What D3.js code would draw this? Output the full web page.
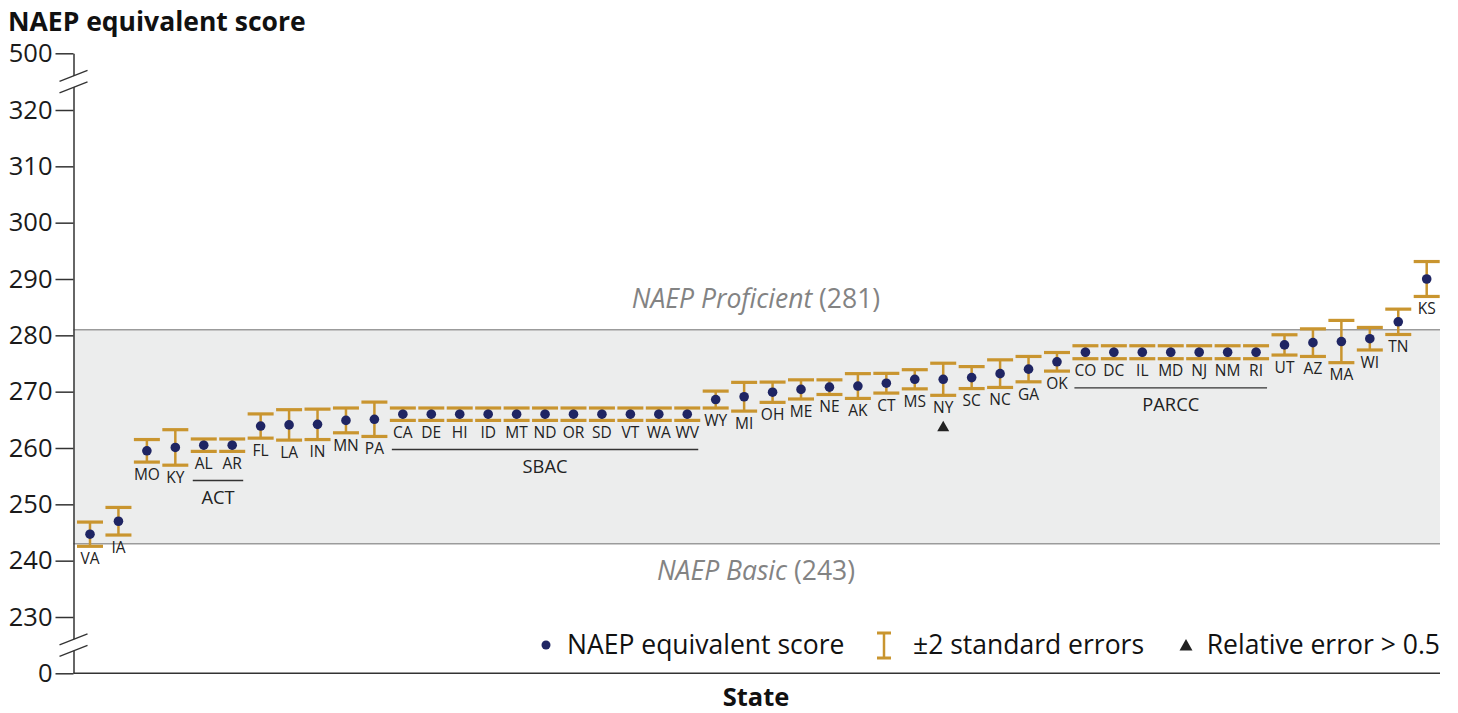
<!DOCTYPE html>
<html>
<head>
<meta charset="utf-8">
<script src="https://cdn.jsdelivr.net/npm/d3@7"></script>
<style>
  body { margin: 0; background: #fff; }
  svg { display: block; font-family: "Open Sans", "Noto Sans", sans-serif; }
</style>
</head>
<body>
<div id="chart"></div>
<script>
// ----- Data -----
const states = ["VA","IA","MO","KY","AL","AR","FL","LA","IN","MN","PA",
  "CA","DE","HI","ID","MT","ND","OR","SD","VT","WA","WV",
  "WY","MI","OH","ME","NE","AK","CT","MS","NY","SC","NC","GA","OK",
  "CO","DC","IL","MD","NJ","NM","RI","UT","AZ","MA","WI","TN","KS"];

const scores = [244.7, 247.0, 259.5, 260.1, 260.5, 260.5, 263.9, 264.1, 264.2, 264.9, 265.1,
  266.0, 266.0, 266.0, 266.0, 266.0, 266.0, 266.0, 266.0, 266.0, 266.0, 266.0,
  268.6, 269.1, 269.9, 270.4, 270.8, 271.0, 271.5, 272.2, 272.2, 272.5, 273.2, 274.0, 275.3,
  277.0, 277.0, 277.0, 277.0, 277.0, 277.0, 277.0, 278.3, 278.7, 278.9, 279.4, 282.4, 290.0];

// half width of the +/-2 standard error bar
const errors = [2.15, 2.45, 2.0, 3.15, 1.1, 1.1, 2.15, 2.7, 2.7, 2.2, 3.05,
  1.1, 1.1, 1.1, 1.1, 1.1, 1.1, 1.1, 1.1, 1.1, 1.1, 1.1,
  1.5, 2.55, 1.8, 1.7, 1.3, 2.2, 1.75, 1.7, 2.85, 1.95, 2.45, 2.25, 1.65,
  1.15, 1.15, 1.15, 1.15, 1.15, 1.15, 1.15, 1.8, 2.45, 3.75, 2.0, 2.25, 3.1];

const groupNames = ["ACT", "SBAC", "PARCC"];
const groupMembers = [
  ["AL","AR"],
  ["CA","DE","HI","ID","MT","ND","OR","SD","VT","WA","WV"],
  ["CO","DC","IL","MD","NJ","NM","RI"]
];
const flagged = ["NY"];

const tickValues = [0, 230, 240, 250, 260, 270, 280, 290, 300, 310, 320, 500];
const proficient = 281;
const basic = 243;

// ----- Config -----
const width = 1458, height = 713;
const axisX = 73.5, plotRight = 1440;
const barColor = "#c9952f", dotColor = "#1f2563";

const svg = d3.select("#chart").append("svg")
  .attr("width", width).attr("height", height);

const x = d3.scalePoint().domain(states).range([90, 1426.7]);
// broken axis: 0 and 500 sit one step outside 230..320
const y = d3.scaleLinear()
  .domain([0, 230, 320, 500])
  .range([673.3, 617, 110, 53.3]);

const data = states.map((s, i) => ({ state: s, score: scores[i], err: errors[i] }));
const byState = new Map(data.map(d => [d.state, d]));

// ----- Reference band -----
svg.append("rect")
  .attr("x", axisX).attr("width", plotRight - axisX)
  .attr("y", y(proficient)).attr("height", y(basic) - y(proficient))
  .attr("fill", "#eceded");

svg.selectAll("line.ref")
  .data([proficient, basic])
  .join("line")
  .attr("class", "ref")
  .attr("x1", axisX).attr("x2", plotRight)
  .attr("y1", d => y(d)).attr("y2", d => y(d))
  .attr("stroke", "#9b9b9b").attr("stroke-width", 1.5);

const refLabels = [
  { name: "NAEP Proficient", v: proficient, dy: -31 },
  { name: "NAEP Basic", v: basic, dy: 27 }
];
const rl = svg.selectAll("text.ref")
  .data(refLabels)
  .join("text")
  .attr("class", "ref")
  .attr("x", 756).attr("y", d => y(d.v) + d.dy)
  .attr("dy", "0.35em")
  .attr("text-anchor", "middle")
  .attr("font-size", 26.5)
  .attr("fill", "#838383");
rl.append("tspan").attr("font-style", "italic").text(d => d.name);
rl.append("tspan").text(d => ` (${d.v})`);

// ----- Y axis -----
const yAxis = d3.axisLeft(y).tickValues(tickValues).tickSize(18).tickSizeOuter(0).tickPadding(3);
const gy = svg.append("g")
  .attr("transform", `translate(${axisX},0)`)
  .call(yAxis);
gy.select(".domain").attr("stroke", "#333").attr("stroke-width", 1.5);
gy.selectAll(".tick line").attr("stroke", "#333").attr("stroke-width", 1.5);
gy.selectAll(".tick text").attr("font-size", 25.5).attr("fill", "#1a1a1a")
  .attr("font-family", "Open Sans, Noto Sans, sans-serif");

// x axis baseline
svg.append("line")
  .attr("x1", axisX).attr("x2", plotRight)
  .attr("y1", y(0)).attr("y2", y(0))
  .attr("stroke", "#333").attr("stroke-width", 1.5);

// axis break marks
[(y(500) + y(320)) / 2, (y(230) + y(0)) / 2].forEach(cy => {
  const g = svg.append("g").attr("transform", `translate(${axisX},${cy})`);
  g.append("polygon")
    .attr("points", "-13,-0.5 13,-10.7 13,0.5 -13,10.7")
    .attr("fill", "#fff");
  [-5.7, 5.7].forEach(o => {
    g.append("line")
      .attr("x1", -14).attr("y1", o + 5.5)
      .attr("x2", 14).attr("y2", o - 5.5)
      .attr("stroke", "#333").attr("stroke-width", 1.3);
  });
});

// ----- Error bars -----
const capW = 13;
const bars = svg.append("g").selectAll("g")
  .data(data)
  .join("g")
  .attr("transform", d => `translate(${x(d.state)},0)`);

bars.append("line")
  .attr("y1", d => y(d.score + d.err)).attr("y2", d => y(d.score - d.err))
  .attr("stroke", barColor).attr("stroke-width", 2.5);
bars.selectAll("line.cap")
  .data(d => [d.score + d.err, d.score - d.err])
  .join("line")
  .attr("class", "cap")
  .attr("x1", -capW).attr("x2", capW)
  .attr("y1", v => y(v)).attr("y2", v => y(v))
  .attr("stroke", barColor).attr("stroke-width", 3.2);

bars.append("circle")
  .attr("cy", d => y(d.score))
  .attr("r", 4.8)
  .attr("fill", dotColor);

bars.append("text")
  .attr("y", d => y(d.score - d.err) + 12.3)
  .attr("dy", "0.35em")
  .attr("text-anchor", "middle")
  .attr("font-size", 15.5)
  .attr("fill", "#222")
  .text(d => d.state);

// flagged triangle
svg.selectAll("path.flag")
  .data(flagged.map(s => byState.get(s)))
  .join("path")
  .attr("class", "flag")
  .attr("transform", d => `translate(${x(d.state)},${y(d.score - d.err) + 31})`)
  .attr("d", "M0,-5.5 L6,5 L-6,5 Z")
  .attr("fill", "#222");

// ----- Group brackets -----
const groups = groupNames.map((name, i) => {
  const members = groupMembers[i].map(s => byState.get(s));
  const low = d3.max(members, d => y(d.score - d.err));
  return {
    name,
    x1: x(members[0].state) - 11,
    x2: x(members[members.length - 1].state) + 11,
    ly: low + 12.3 + 16.8
  };
});
const gg = svg.append("g").selectAll("g").data(groups).join("g");
gg.append("line")
  .attr("x1", d => d.x1).attr("x2", d => d.x2)
  .attr("y1", d => d.ly).attr("y2", d => d.ly)
  .attr("stroke", "#333").attr("stroke-width", 1.3);
gg.append("text")
  .attr("x", d => (d.x1 + d.x2) / 2)
  .attr("y", d => d.ly + 17)
  .attr("dy", "0.35em")
  .attr("text-anchor", "middle")
  .attr("font-size", 18.3)
  .attr("fill", "#222")
  .text(d => d.name);

// ----- Titles -----
svg.append("text")
  .attr("x", 8).attr("y", 31)
  .attr("font-size", 26.5).attr("font-weight", "bold").attr("fill", "#111")
  .text("NAEP equivalent score");
svg.append("text")
  .attr("x", 756).attr("y", 706)
  .attr("text-anchor", "middle")
  .attr("font-size", 25.5).attr("font-weight", "bold").attr("fill", "#111")
  .text("State");

// ----- Legend -----
const ly = 645;
const legend = svg.append("g");
legend.append("circle").attr("cx", 546).attr("cy", ly).attr("r", 4.5).attr("fill", dotColor);
legend.append("text").attr("x", 567).attr("y", ly).attr("dy", "0.35em")
  .attr("font-size", 26.5).attr("fill", "#111").text("NAEP equivalent score");
legend.append("line").attr("x1", 884).attr("x2", 884).attr("y1", ly - 12).attr("y2", ly + 13)
  .attr("stroke", barColor).attr("stroke-width", 2.5);
[ly - 12, ly + 13].forEach(v => legend.append("line")
  .attr("x1", 877).attr("x2", 891).attr("y1", v).attr("y2", v)
  .attr("stroke", barColor).attr("stroke-width", 3));
legend.append("text").attr("x", 913).attr("y", ly).attr("dy", "0.35em")
  .attr("font-size", 26.5).attr("fill", "#111").text("±2 standard errors");
legend.append("path").attr("transform", `translate(1186,${ly})`)
  .attr("d", "M0,-6 L6.5,5.5 L-6.5,5.5 Z").attr("fill", "#222");
legend.append("text").attr("x", 1440).attr("y", ly).attr("dy", "0.35em")
  .attr("text-anchor", "end")
  .attr("font-size", 26.5).attr("fill", "#111").text("Relative error > 0.5");
</script>
</body>
</html>
